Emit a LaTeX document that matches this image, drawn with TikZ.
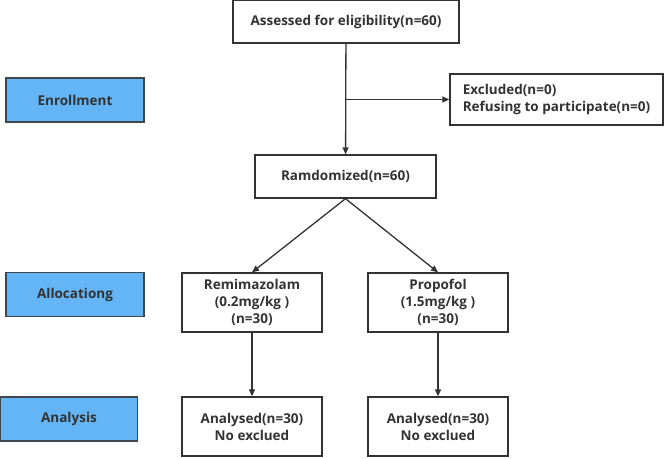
\documentclass[tikz,border=0pt]{standalone}
\usepackage{fontspec}
\setmainfont{Open Sans}
\usetikzlibrary{arrows.meta}

\definecolor{stageblue}{RGB}{99,181,246}
\definecolor{inkgray}{RGB}{51,51,51}
\definecolor{edgegray}{RGB}{64,70,80}

\tikzset{
	flowbox/.style={draw=inkgray,line width=1.3pt,fill=white,inner sep=0pt,align=center,
		font=\bfseries\fontsize{13.5}{17}\selectfont,text=inkgray},
	stagebox/.style={draw=edgegray,line width=1.3pt,fill=stageblue,inner sep=0pt,
		minimum width=138pt,minimum height=44pt,font=\bfseries\fontsize{13.5}{16}\selectfont,text=inkgray},
	flowarrow/.style={draw=inkgray,line width=1.3pt,-{Triangle[length=7pt,width=6pt]}}
}

\begin{document}
\begin{tikzpicture}[x=1pt,y=-1pt]
		\useasboundingbox (0,0) rectangle (669,458);
		% stage labels on the left
		\node[stagebox] (enroll) at (75,100) {Enrollment};
		\node[stagebox] (alloc) at (75,294.5) {Allocationg};
		\node[stagebox,minimum width=137pt] (analysis) at (69,419) {Analysis};
		% main flow
		\node[flowbox,minimum width=226pt,minimum height=43pt] (assess) at (346,21.5) {Assessed for eligibility(n=60)};
		\node[flowbox,minimum width=213pt,minimum height=51pt,align=left] (excl) at (556.5,99.5) {Excluded(n=0)\\Refusing to participate(n=0)};
		\node[flowbox,minimum width=181pt,minimum height=43pt] (rand) at (345.5,176.5) {Ramdomized(n=60)};
		\node[flowbox,minimum width=140pt,minimum height=59pt] (remi) at (252,302.5) {Remimazolam\\(0.2mg/kg )\\(n=30)};
		\node[flowbox,minimum width=140pt,minimum height=59pt] (prop) at (438,302.5) {Propofol\\(1.5mg/kg )\\(n=30)};
		\node[flowbox,minimum width=140pt,minimum height=59pt] (anl) at (252,426.5) {Analysed(n=30)\\No exclued};
		\node[flowbox,minimum width=140pt,minimum height=59pt] (anr) at (438,426.5) {Analysed(n=30)\\No exclued};
		\coordinate (split) at (assess.south |- excl.west);
		\draw[flowarrow] (assess) -- (rand);
		\draw[flowarrow] (split) -- (excl.west);
		\foreach \arm/\out in {remi/anl,prop/anr}{
			\draw[flowarrow] (rand.south) -- (\arm.north);
			\draw[flowarrow] (\arm) -- (\out);
		};
	\end{tikzpicture}
\end{document}
